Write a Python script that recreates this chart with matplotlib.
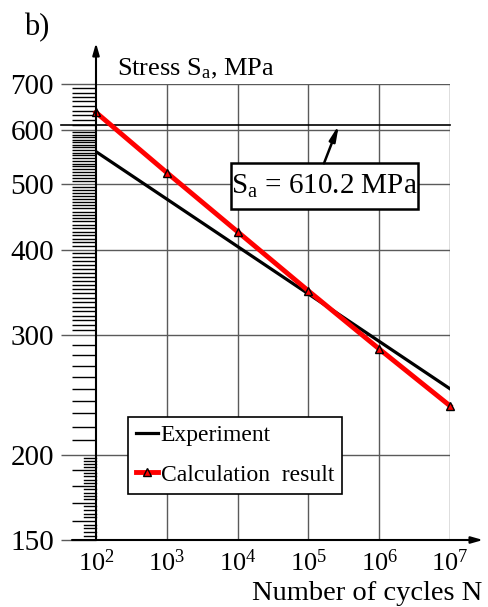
import numpy as np
import matplotlib
matplotlib.use("Agg")
import matplotlib.pyplot as plt
import matplotlib.transforms as mtransforms
from matplotlib.patches import Rectangle
from matplotlib.ticker import FixedLocator, NullFormatter, LogFormatterSciNotation

plt.rcParams['font.family'] = ['Liberation Serif', 'DejaVu Serif']
plt.rcParams['mathtext.fontset'] = 'custom'
plt.rcParams['mathtext.rm'] = 'Liberation Serif'
plt.rcParams['mathtext.it'] = 'Liberation Serif:italic'
plt.rcParams['mathtext.bf'] = 'Liberation Serif:bold'

# ---- data ----
calc_N = [1e2, 1e3, 1e4, 1e5, 1e6, 1e7]
calc_S = [636, 519, 425, 348, 286, 236]
exp_N = [1e2, 1e7]
exp_S = [557, 250]
limit_S = 610.2
y_major = [150, 200, 300, 400, 500, 600, 700]
y_minor_long = ([v for v in range(160, 300, 10) if v != 200]
                + [v for v in range(305, 600, 5) if v % 100 != 0]
                + [v for v in range(610, 700, 10)])
y_minor_short = [v for v in range(152, 200, 2) if v % 10 != 0]
x_major = [1e2, 1e3, 1e4, 1e5, 1e6, 1e7]

W, H = 488, 607
fig = plt.figure(figsize=(W / 100, H / 100), dpi=100)
L, R, T, B = 96, 450, 84, 540
ax = fig.add_axes([L / W, 1 - B / H, (R - L) / W, (B - T) / H])
ax.set_xscale('log')
ax.set_yscale('log')
ax.set_xlim(1e2, 1e7)
ax.set_ylim(150, 700)

for s in ['top', 'right', 'left', 'bottom']:
    ax.spines[s].set_visible(False)

grid_c = '#5a5a5a'
for xv in x_major[1:]:
    ax.axvline(xv, color=grid_c, lw=1.0, zorder=1)
for yv in y_major[1:]:
    ax.axhline(yv, color=grid_c, lw=1.0, zorder=1)

# ticks
ax.yaxis.set_major_locator(FixedLocator(y_major))
ax.yaxis.set_major_formatter(matplotlib.ticker.FixedFormatter([str(v) for v in y_major]))
ax.yaxis.set_minor_locator(FixedLocator(y_minor_long))
ax.yaxis.set_minor_formatter(NullFormatter())
ax.xaxis.set_major_locator(FixedLocator(x_major))
ax.xaxis.set_major_formatter(LogFormatterSciNotation())
ax.xaxis.set_minor_locator(FixedLocator([]))
ax.tick_params(axis='y', which='major', direction='out', length=25.2, width=1.0,
               color=grid_c, labelsize=21, pad=5)
ax.tick_params(axis='y', which='minor', direction='out', length=17.3, width=1.0,
               color='black')
ax.tick_params(axis='x', which='major', length=0, labelsize=19, pad=7)

# short minor ticks between 150 and 200
tr = mtransforms.blended_transform_factory(ax.transAxes, ax.transData)
sx = -12 / (R - L)
for yv in y_minor_short:
    ax.plot([sx, 0], [yv, yv], color='black', lw=1.0, transform=tr, clip_on=False, zorder=2)

# 610.2 line
ax.plot([-35 / (R - L), 1], [limit_S, limit_S], color='black', lw=1.2,
        transform=tr, clip_on=False, zorder=2)

# axes with arrows
ax.annotate('', xy=(0, (B - 43) / (B - T)), xytext=(0, 0),
            xycoords='axes fraction', textcoords='axes fraction',
            arrowprops=dict(arrowstyle='-|>,head_length=0.7,head_width=0.2',
                            color='black', lw=1.5, shrinkA=0, shrinkB=0), zorder=5)
ax.annotate('', xy=((483 - L) / (R - L), 0), xytext=((72 - L) / (R - L), 0),
            xycoords='axes fraction', textcoords='axes fraction',
            arrowprops=dict(arrowstyle='-|>,head_length=0.7,head_width=0.2',
                            color='black', lw=1.5, shrinkA=0, shrinkB=0), zorder=5)

# data
ax.plot(exp_N, exp_S, color='black', lw=2.3, label='Experiment', zorder=3)
ax.plot(calc_N, calc_S, color='#ff0000', lw=3.5, marker='^', markersize=5.5,
        markerfacecolor='#ff0000', markeredgecolor='black', markeredgewidth=1.0,
        label='Calculation  result', zorder=4, clip_on=False)

leg = ax.legend(loc='upper left',
                bbox_to_anchor=((127.7 - L) / (R - L), (B - 416.7) / (B - T)),
                fontsize=17, frameon=True, fancybox=False, framealpha=1,
                edgecolor='black', handlelength=0.95, handletextpad=0.1,
                borderpad=0.35, labelspacing=0.75, borderaxespad=0)
leg.get_frame().set_linewidth(1.2)
leg.set_zorder(6)

# annotation box (figure pixel geometry)
def fx(px):
    return px / W

def fy(py):
    return 1 - py / H

box = Rectangle((fx(230.7), fy(209.3)), (417.7 - 230.7) / W, (209.3 - 163.3) / H,
                transform=fig.transFigure, facecolor='white', edgecolor='black',
                lw=1.8, zorder=7)
ax.add_patch(box)
box.set_clip_on(False)
fig.text(fx(324), fy(186), r'S$_\mathregular{a}$ = 610.2 MPa', fontsize=21,
         ha='center', va='center', zorder=8)
ax.annotate('', xy=(2.7e5, limit_S), xycoords='data',
            xytext=(fx(324), fy(163.3)), textcoords='figure fraction',
            arrowprops=dict(arrowstyle='-|>,head_length=0.9,head_width=0.18',
                            color='black', lw=1.8, shrinkA=0, shrinkB=0),
            zorder=7)

# labels
ax.text((117 - L) / (R - L), (B - 75) / (B - T), r'Stress S$_\mathregular{a}$, MPa',
        transform=ax.transAxes, fontsize=19, ha='left', va='baseline')
fig.text(482 / W, 1 - 600 / H, 'Number of cycles N', fontsize=20.5, ha='right', va='baseline')
fig.text(24 / W, 1 - 35 / H, 'b)', fontsize=22, ha='left', va='baseline')

fig.savefig('out.png', dpi=100)
